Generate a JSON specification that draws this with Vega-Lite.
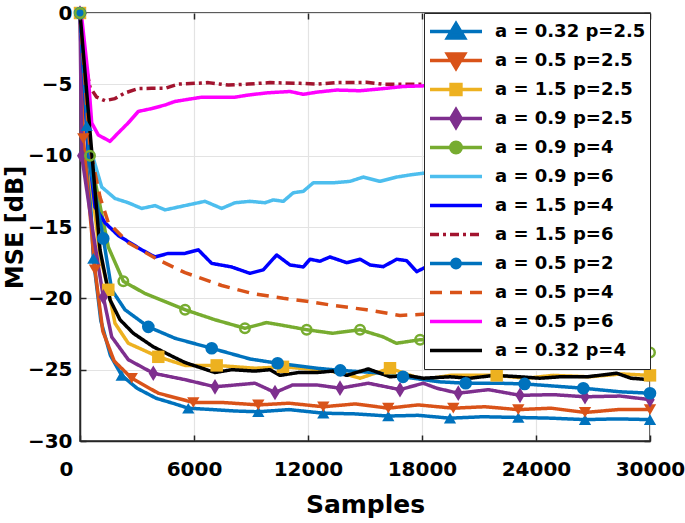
{
"$schema": "https://vega.github.io/schema/vega-lite/v6.json",
"width": 570, "height": 428,
"autosize": {"type": "none"},
"padding": {"left": 80, "top": 13, "right": 35, "bottom": 82},
"background": "white",
"config": {
  "view": {"stroke": "#262626", "strokeWidth": 1.5},
  "font": "DejaVu Sans",
  "axis": {"labelFont": "DejaVu Sans", "labelFontWeight": "bold", "labelFontSize": 20, "labelColor": "#000",
    "titleFont": "DejaVu Sans", "titleFontWeight": "bold", "titleFontSize": 25, "titleColor": "#000",
    "domainColor": "#262626", "domainWidth": 1.5, "tickColor": "#262626", "tickWidth": 1.5, "tickSize": -6,
    "gridColor": "#e3e3e3", "gridWidth": 1.2, "labelFlush": false},
  "legend": {"orient": "top-right", "offset": 0, "labelFont": "DejaVu Sans", "labelFontWeight": "bold", "labelFontSize": 18,
    "labelColor": "#000", "labelLimit": 0, "labelOffset": 11, "symbolSize": 2704, "symbolStrokeWidth": 3.5,
    "clipHeight": 29, "rowPadding": 0, "padding": 4, "fillColor": "white", "strokeColor": "#262626"}
},
"datasets": {
  "series": [
    {"k":1,"s":"a = 0.32 p=2.5"},{"k":2,"s":"a = 0.5 p=2.5"},{"k":3,"s":"a = 1.5 p=2.5"},{"k":4,"s":"a = 0.9 p=2.5"},
    {"k":5,"s":"a = 0.9 p=4"},{"k":6,"s":"a = 0.9 p=6"},{"k":7,"s":"a = 1.5 p=4"},{"k":8,"s":"a = 1.5 p=6"},
    {"k":9,"s":"a = 0.5 p=2"},{"k":10,"s":"a = 0.5 p=4"},{"k":11,"s":"a = 0.5 p=6"},{"k":12,"s":"a = 0.32 p=4"}
  ],
  "pts": [
    {"k":1,"x":0,"y":0,"m":1},{"k":1,"x":350,"y":-7.9,"m":1},{"k":1,"x":702,"y":-17.2,"m":1},{"k":1,"x":1100,"y":-21.6},{"k":1,"x":1600,"y":-24.0},{"k":1,"x":2193,"y":-25.4,"m":1},{"k":1,"x":3000,"y":-26.3},{"k":1,"x":4000,"y":-27.0},{"k":1,"x":5000,"y":-27.4},{"k":1,"x":5700,"y":-27.7,"m":1},{"k":1,"x":7000,"y":-27.8},{"k":1,"x":8200,"y":-27.9},{"k":1,"x":9384,"y":-27.95,"m":1},{"k":1,"x":11000,"y":-27.8},{"k":1,"x":12805,"y":-28.05,"m":1},{"k":1,"x":14500,"y":-28.1},{"k":1,"x":16226,"y":-28.25,"m":1},{"k":1,"x":17800,"y":-28.2},{"k":1,"x":19474,"y":-28.4,"m":1},{"k":1,"x":21200,"y":-28.3},{"k":1,"x":23068,"y":-28.35,"m":1},{"k":1,"x":24800,"y":-28.4},{"k":1,"x":26579,"y":-28.5,"m":1},{"k":1,"x":28300,"y":-28.45},{"k":1,"x":30000,"y":-28.5,"m":1},

    {"k":2,"x":0,"y":0,"m":1},{"k":2,"x":175,"y":-8.8,"m":1},{"k":2,"x":789,"y":-18.0,"m":1},{"k":2,"x":1200,"y":-22.3},{"k":2,"x":1800,"y":-24.4},{"k":2,"x":2721,"y":-25.6,"m":1},{"k":2,"x":4121,"y":-26.65},{"k":2,"x":5963,"y":-27.3,"m":1},{"k":2,"x":7500,"y":-27.3},{"k":2,"x":9384,"y":-27.47,"m":1},{"k":2,"x":11000,"y":-27.35},{"k":2,"x":12805,"y":-27.6,"m":1},{"k":2,"x":14500,"y":-27.4},{"k":2,"x":16226,"y":-27.7,"m":1},{"k":2,"x":17800,"y":-27.47},{"k":2,"x":19647,"y":-27.7,"m":1},{"k":2,"x":21300,"y":-27.6},{"k":2,"x":23068,"y":-27.8,"m":1},{"k":2,"x":24800,"y":-27.7},{"k":2,"x":26579,"y":-28.0,"m":1},{"k":2,"x":28300,"y":-27.8},{"k":2,"x":30000,"y":-27.8,"m":1},

    {"k":3,"x":0,"y":0,"m":1},{"k":3,"x":600,"y":-12.0},{"k":3,"x":1053,"y":-17.0},{"k":3,"x":1490,"y":-19.4,"m":1},{"k":3,"x":1842,"y":-21.75},{"k":3,"x":2542,"y":-23.15},{"k":3,"x":4121,"y":-24.1,"m":1},{"k":3,"x":5526,"y":-24.7},{"k":3,"x":7194,"y":-24.7,"m":1},{"k":3,"x":9210,"y":-24.9},{"k":3,"x":10684,"y":-24.8,"m":1},{"k":3,"x":12500,"y":-25.0},{"k":3,"x":13700,"y":-25.2},{"k":3,"x":14737,"y":-25.6},{"k":3,"x":16316,"y":-24.9,"m":1},{"k":3,"x":18052,"y":-25.7},{"k":3,"x":19500,"y":-25.4},{"k":3,"x":21930,"y":-25.4,"m":1},{"k":3,"x":23500,"y":-25.6},{"k":3,"x":24895,"y":-25.4},{"k":3,"x":26800,"y":-25.5},{"k":3,"x":28500,"y":-25.3},{"k":3,"x":30000,"y":-25.4,"m":1},

    {"k":4,"x":0,"y":0,"m":1},{"k":4,"x":89,"y":-10.0,"m":1},{"k":4,"x":700,"y":-15.5},{"k":4,"x":1226,"y":-19.9,"m":1},{"k":4,"x":1668,"y":-22.7},{"k":4,"x":2542,"y":-24.3},{"k":4,"x":3858,"y":-25.25,"m":1},{"k":4,"x":5526,"y":-25.7},{"k":4,"x":7105,"y":-26.2,"m":1},{"k":4,"x":9210,"y":-25.95},{"k":4,"x":10263,"y":-26.6,"m":1},{"k":4,"x":11200,"y":-26.07},{"k":4,"x":12458,"y":-26.07},{"k":4,"x":13684,"y":-26.3,"m":1},{"k":4,"x":15174,"y":-25.95},{"k":4,"x":16842,"y":-26.4,"m":1},{"k":4,"x":18068,"y":-25.95},{"k":4,"x":18773,"y":-26.3},{"k":4,"x":19910,"y":-26.65,"m":1},{"k":4,"x":21500,"y":-26.4},{"k":4,"x":23158,"y":-26.8,"m":1},{"k":4,"x":24900,"y":-26.75},{"k":4,"x":26579,"y":-26.9,"m":1},{"k":4,"x":28421,"y":-26.85},{"k":4,"x":30000,"y":-27.1,"m":1},

    {"k":5,"x":0,"y":0,"m":1},{"k":5,"x":526,"y":-10.0,"m":1},{"k":5,"x":1490,"y":-16.4},{"k":5,"x":2280,"y":-18.8,"m":1},{"k":5,"x":3400,"y":-19.65},{"k":5,"x":5530,"y":-20.8,"m":1},{"k":5,"x":7100,"y":-21.5},{"k":5,"x":8680,"y":-22.1,"m":1},{"k":5,"x":9825,"y":-21.7},{"k":5,"x":10700,"y":-21.9},{"k":5,"x":11930,"y":-22.2,"m":1},{"k":5,"x":13300,"y":-22.45},{"k":5,"x":14740,"y":-22.2,"m":1},{"k":5,"x":15950,"y":-22.7},{"k":5,"x":16650,"y":-23.15},{"k":5,"x":17900,"y":-22.9,"m":1},{"k":5,"x":20900,"y":-23.1,"m":1},{"k":5,"x":24000,"y":-23.3,"m":1},{"k":5,"x":27000,"y":-23.5,"m":1},{"k":5,"x":30000,"y":-23.8,"m":1},

    {"k":6,"x":0,"y":0},{"k":6,"x":526,"y":-9.4},{"k":6,"x":1142,"y":-12.2},{"k":6,"x":1842,"y":-13.0},{"k":6,"x":2542,"y":-13.3},{"k":6,"x":3247,"y":-13.7},{"k":6,"x":3947,"y":-13.5},{"k":6,"x":4474,"y":-13.8},{"k":6,"x":5526,"y":-13.5},{"k":6,"x":6579,"y":-13.2},{"k":6,"x":7457,"y":-13.7},{"k":6,"x":8158,"y":-13.3},{"k":6,"x":8947,"y":-13.2},{"k":6,"x":9737,"y":-13.3},{"k":6,"x":10174,"y":-13.1},{"k":6,"x":10700,"y":-13.2},{"k":6,"x":11226,"y":-12.6},{"k":6,"x":11752,"y":-12.5},{"k":6,"x":12279,"y":-11.9},{"k":6,"x":13331,"y":-11.9},{"k":6,"x":14210,"y":-11.8},{"k":6,"x":14910,"y":-11.5},{"k":6,"x":15789,"y":-11.8},{"k":6,"x":16668,"y":-11.5},{"k":6,"x":17368,"y":-11.35},{"k":6,"x":18247,"y":-11.2},{"k":6,"x":21000,"y":-10.8},{"k":6,"x":24000,"y":-10.3},{"k":6,"x":27000,"y":-9.8},{"k":6,"x":30000,"y":-9.3},

    {"k":7,"x":0,"y":0},{"k":7,"x":400,"y":-9.0},{"k":7,"x":789,"y":-13.6},{"k":7,"x":1316,"y":-14.7},{"k":7,"x":2016,"y":-15.6},{"k":7,"x":3247,"y":-16.6},{"k":7,"x":3947,"y":-17.1},{"k":7,"x":4647,"y":-16.85},{"k":7,"x":5526,"y":-16.85},{"k":7,"x":6227,"y":-16.6},{"k":7,"x":6930,"y":-17.55},{"k":7,"x":7983,"y":-17.8},{"k":7,"x":8947,"y":-18.25},{"k":7,"x":9647,"y":-18.0},{"k":7,"x":10352,"y":-16.96},{"k":7,"x":11052,"y":-17.66},{"k":7,"x":11752,"y":-17.8},{"k":7,"x":12105,"y":-17.26},{"k":7,"x":12631,"y":-17.4},{"k":7,"x":13157,"y":-17.1},{"k":7,"x":14037,"y":-17.5},{"k":7,"x":14736,"y":-17.26},{"k":7,"x":15263,"y":-17.66},{"k":7,"x":15963,"y":-17.78},{"k":7,"x":16668,"y":-17.26},{"k":7,"x":17194,"y":-17.36},{"k":7,"x":17721,"y":-18.13},{"k":7,"x":18247,"y":-17.78},{"k":7,"x":21000,"y":-17.5},{"k":7,"x":24000,"y":-17.2},{"k":7,"x":27000,"y":-16.9},{"k":7,"x":30000,"y":-16.5},

    {"k":8,"x":0,"y":0},{"k":8,"x":174,"y":-2.8},{"k":8,"x":526,"y":-5.2},{"k":8,"x":878,"y":-5.9},{"k":8,"x":1316,"y":-6.15},{"k":8,"x":1842,"y":-6.0},{"k":8,"x":2368,"y":-5.6},{"k":8,"x":3068,"y":-5.3},{"k":8,"x":3774,"y":-5.28},{"k":8,"x":4474,"y":-5.28},{"k":8,"x":5175,"y":-4.98},{"k":8,"x":6052,"y":-4.93},{"k":8,"x":6752,"y":-4.88},{"k":8,"x":7805,"y":-5.05},{"k":8,"x":8857,"y":-4.98},{"k":8,"x":9999,"y":-4.88},{"k":8,"x":11578,"y":-4.93},{"k":8,"x":12458,"y":-4.98},{"k":8,"x":13510,"y":-4.88},{"k":8,"x":15086,"y":-4.86},{"k":8,"x":15963,"y":-5.0},{"k":8,"x":17015,"y":-5.0},{"k":8,"x":18247,"y":-5.0},{"k":8,"x":22000,"y":-4.95},{"k":8,"x":26000,"y":-5.0},{"k":8,"x":30000,"y":-5.0},

    {"k":9,"x":0,"y":0,"m":1},{"k":9,"x":500,"y":-10.5},{"k":9,"x":1226,"y":-15.8,"m":1},{"k":9,"x":1668,"y":-19.4},{"k":9,"x":2368,"y":-20.8},{"k":9,"x":3596,"y":-22.0,"m":1},{"k":9,"x":5000,"y":-22.8},{"k":9,"x":6931,"y":-23.5,"m":1},{"k":9,"x":8947,"y":-24.25},{"k":9,"x":10400,"y":-24.55,"m":1},{"k":9,"x":12458,"y":-24.9},{"k":9,"x":13700,"y":-25.05,"m":1},{"k":9,"x":15500,"y":-25.2},{"k":9,"x":17000,"y":-25.5,"m":1},{"k":9,"x":18900,"y":-25.85},{"k":9,"x":20300,"y":-25.95,"m":1},{"k":9,"x":22000,"y":-25.95},{"k":9,"x":23400,"y":-26.0,"m":1},{"k":9,"x":26489,"y":-26.3,"m":1},{"k":9,"x":28421,"y":-26.55},{"k":9,"x":30000,"y":-26.65,"m":1},

    {"k":10,"x":0,"y":0},{"k":10,"x":526,"y":-9.5},{"k":10,"x":1053,"y":-12.9},{"k":10,"x":1490,"y":-14.7},{"k":10,"x":2542,"y":-16.1},{"k":10,"x":4121,"y":-17.3},{"k":10,"x":5526,"y":-18.2},{"k":10,"x":7456,"y":-19.1},{"k":10,"x":9035,"y":-19.65},{"k":10,"x":10700,"y":-20.0},{"k":10,"x":11930,"y":-20.2},{"k":10,"x":13331,"y":-20.5},{"k":10,"x":15086,"y":-20.8},{"k":10,"x":16842,"y":-21.2},{"k":10,"x":18247,"y":-21.1},{"k":10,"x":22000,"y":-21.4},{"k":10,"x":26000,"y":-21.7},{"k":10,"x":30000,"y":-22.0},

    {"k":11,"x":0,"y":0},{"k":11,"x":89,"y":-0.3},{"k":11,"x":437,"y":-4.5},{"k":11,"x":616,"y":-7.7},{"k":11,"x":963,"y":-8.55},{"k":11,"x":1579,"y":-9.0},{"k":11,"x":2016,"y":-8.4},{"k":11,"x":2542,"y":-7.7},{"k":11,"x":3068,"y":-6.9},{"k":11,"x":3774,"y":-6.7},{"k":11,"x":4474,"y":-6.45},{"k":11,"x":5000,"y":-6.2},{"k":11,"x":5700,"y":-6.05},{"k":11,"x":6405,"y":-5.9},{"k":11,"x":7279,"y":-5.9},{"k":11,"x":8158,"y":-5.9},{"k":11,"x":8857,"y":-5.75},{"k":11,"x":9826,"y":-5.6},{"k":11,"x":11052,"y":-5.5},{"k":11,"x":11752,"y":-5.7},{"k":11,"x":12458,"y":-5.55},{"k":11,"x":13510,"y":-5.4},{"k":11,"x":14736,"y":-5.45},{"k":11,"x":15963,"y":-5.3},{"k":11,"x":17015,"y":-5.15},{"k":11,"x":18247,"y":-5.1},{"k":11,"x":22000,"y":-5.1},{"k":11,"x":26000,"y":-5.15},{"k":11,"x":30000,"y":-5.2},

    {"k":12,"x":0,"y":0},{"k":12,"x":1053,"y":-16.6},{"k":12,"x":1579,"y":-20.1},{"k":12,"x":2105,"y":-21.5},{"k":12,"x":2807,"y":-22.45},{"k":12,"x":3860,"y":-23.4},{"k":12,"x":4910,"y":-24.1},{"k":12,"x":5526,"y":-24.5},{"k":12,"x":7105,"y":-25.2},{"k":12,"x":8000,"y":-25.0},{"k":12,"x":9210,"y":-25.1},{"k":12,"x":10000,"y":-25.0},{"k":12,"x":10526,"y":-25.4},{"k":12,"x":11500,"y":-25.2},{"k":12,"x":12458,"y":-25.2},{"k":12,"x":13300,"y":-25.1},{"k":12,"x":14037,"y":-25.4},{"k":12,"x":15174,"y":-24.95},{"k":12,"x":16316,"y":-25.5},{"k":12,"x":17200,"y":-25.4},{"k":12,"x":18068,"y":-25.6},{"k":12,"x":19474,"y":-25.5},{"k":12,"x":20526,"y":-25.6},{"k":12,"x":21800,"y":-25.4},{"k":12,"x":23158,"y":-25.5},{"k":12,"x":24200,"y":-25.6},{"k":12,"x":25263,"y":-25.5},{"k":12,"x":26700,"y":-25.5},{"k":12,"x":28247,"y":-25.25},{"k":12,"x":29000,"y":-25.6},{"k":12,"x":30000,"y":-25.7}
  ]
},
"data": {"name": "pts"},
"transform": [{"lookup": "k", "from": {"data": {"name": "series"}, "key": "k", "fields": ["s"]}}],
"layer": [
  {
    "mark": {"type": "line", "strokeWidth": 3.5, "strokeJoin": "round"},
    "encoding": {
      "x": {"field": "x", "type": "quantitative", "scale": {"domain": [0, 30000], "nice": false},
        "axis": {"values": [0, 6000, 12000, 18000, 24000, 30000], "format": "d", "title": "Samples", "grid": true,
          "labelPadding": 24, "titlePadding": 13, "labelFlush": false,
          "labelOffset": {"condition": {"test": "datum.value == 0", "value": -14}, "value": 0}}},
      "y": {"field": "y", "type": "quantitative", "scale": {"domain": [-30, 0], "nice": false},
        "axis": {"values": [-30, -25, -20, -15, -10, -5, 0], "title": "MSE [dB]", "grid": true, "labelPadding": 14, "titlePadding": 0, "titleFontSize": 24}},
      "color": {"field": "s", "type": "nominal",
        "scale": {"domain": ["a = 0.32 p=2.5","a = 0.5 p=2.5","a = 1.5 p=2.5","a = 0.9 p=2.5","a = 0.9 p=4","a = 0.9 p=6","a = 1.5 p=4","a = 1.5 p=6","a = 0.5 p=2","a = 0.5 p=4","a = 0.5 p=6","a = 0.32 p=4"],
          "range": ["#0072BD","#D95319","#EDB120","#7E2F8E","#77AC30","#4DBEEE","#0000FF","#A2142F","#0072BD","#D95319","#FF00FF","#000000"]},
        "legend": {"title": null,
          "encode": {"symbols": {"update": {
            "shape": {"signal": "['M-1,0H1M0,-0.3L0.33,0.25L-0.33,0.25Z','M-1,0H1M0,0.3L0.33,-0.25L-0.33,-0.25Z','M-1,0H1M-0.19,-0.19H0.19V0.19H-0.19Z','M-1,0H1M0,-0.34L0.2,0L0,0.34L-0.2,0Z','M-1,0H1M0.2,0A0.2,0.2,0,1,1,-0.2,0A0.2,0.2,0,1,1,0.2,0Z','M-1,0H1','M-1,0H1','M-1,0H1','M-1,0H1M0.16,0A0.16,0.16,0,1,1,-0.16,0A0.16,0.16,0,1,1,0.16,0Z','M-1,0H1','M-1,0H1','M-1,0H1'][datum.index]"},
            "fill": {"signal": "['#0072BD','#D95319','#EDB120','#7E2F8E','transparent','transparent','transparent','transparent','#0072BD','transparent','transparent','transparent'][datum.index]"},
            "stroke": {"signal": "['#0072BD','#D95319','#EDB120','#7E2F8E','#77AC30','#4DBEEE','#0000FF','#A2142F','#0072BD','#D95319','#FF00FF','#000000'][datum.index]"},
            "strokeDash": {"signal": "datum.index == 7 ? [9,4,3,4] : (datum.index == 9 ? [12,8] : [])"}
          }}}}},
      "strokeDash": {"field": "k", "type": "nominal",
        "scale": {"domain": [1,2,3,4,5,6,7,8,9,10,11,12],
          "range": [[1,0],[1,0],[1,0],[1,0],[1,0],[1,0],[1,0],[9,4,3,4],[1,0],[12,8],[1,0],[1,0]]},
        "legend": null}
    }
  },
  {
    "transform": [{"filter": "datum.m == 1 && datum.k != 5"}],
    "mark": {"type": "point", "filled": true, "opacity": 1},
    "encoding": {
      "x": {"field": "x", "type": "quantitative", "axis": null},
      "y": {"field": "y", "type": "quantitative", "axis": null},
      "color": {"field": "s", "type": "nominal"},
      "shape": {"field": "k", "type": "nominal", "legend": null,
        "scale": {"domain": [1,2,3,4,9],
          "range": ["triangle-up","triangle-down","square","M0,-1.25L0.75,0L0,1.25L-0.75,0Z","circle"]}},
      "size": {"field": "k", "type": "nominal", "legend": null,
        "scale": {"domain": [1,2,3,4,9], "range": [150, 160, 100, 110, 70]}}
    }
  },
  {
    "transform": [{"filter": "datum.m == 1 && datum.k == 5"}],
    "mark": {"type": "point", "filled": false, "strokeWidth": 2.5, "size": 90, "opacity": 1, "shape": "circle"},
    "encoding": {
      "x": {"field": "x", "type": "quantitative",
        "axis": {"orient": "top", "values": [0, 6000, 12000, 18000, 24000, 30000], "labels": false, "title": null, "grid": false, "domain": false}},
      "y": {"field": "y", "type": "quantitative",
        "axis": {"orient": "right", "values": [-30, -25, -20, -15, -10, -5, 0], "labels": false, "title": null, "grid": false, "domain": false}},
      "color": {"field": "s", "type": "nominal"}
    }
  }
],
"resolve": {"axis": {"x": "independent", "y": "independent"}}
}
